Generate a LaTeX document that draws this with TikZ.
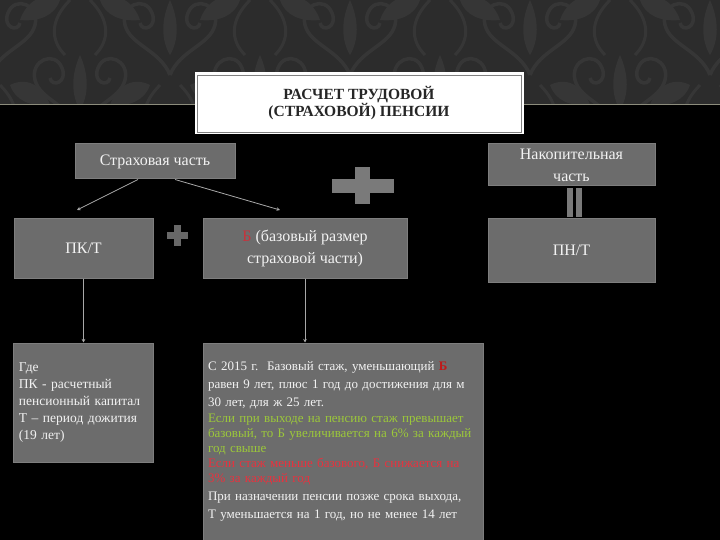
\documentclass[tikz,border=0pt]{standalone}
\usepackage{fontspec}
\setmainfont{Liberation Serif}
\usetikzlibrary{arrows.meta}
\definecolor{band}{HTML}{2C2C2C}
\definecolor{ornc}{HTML}{363636}
\definecolor{bandline}{HTML}{8C8C7C}
\definecolor{boxfill}{HTML}{6C6C6C}
\definecolor{boxline}{HTML}{7E7E7E}
\definecolor{plusc}{HTML}{7A7A7A}
\definecolor{txt}{HTML}{F2F2F2}
\definecolor{redB}{HTML}{C8323C}
\definecolor{redD}{HTML}{C01818}
\definecolor{redL}{HTML}{E8323E}
\definecolor{grn}{HTML}{9CC83A}
\definecolor{conn}{HTML}{A8A8A8}
\tikzset{
  graybox/.style={rectangle, fill=boxfill, draw=boxline, line width=1pt, inner sep=0pt, text=txt, align=center},
  midtext/.style={font=\fontsize{16}{22}\selectfont},
  smalltext/.style={font=\fontsize{13.5}{16.8}\selectfont},
  bigtext/.style={font=\fontsize{13}{16.4}\selectfont},
  connline/.style={draw=conn, line width=0.8pt, -{Stealth[length=3.5pt,width=3.5pt]}},
  orn/.pic={
    \draw[ornc, line width=3.5pt] (0,30) .. controls (-10,5) and (-40,0) .. (-45,-20) .. controls (-50,-40) and (-25,-50) .. (-18,-32) .. controls (-12,-18) and (-28,-12) .. (-30,-22);
    \draw[ornc, line width=3.5pt] (0,30) .. controls (10,5) and (40,0) .. (45,-20) .. controls (50,-40) and (25,-50) .. (18,-32) .. controls (12,-18) and (28,-12) .. (30,-22);
    \fill[ornc] (0,-45) .. controls (9,-25) and (9,-5) .. (0,10) .. controls (-9,-5) and (-9,-25) .. (0,-45);
    \fill[ornc] (-20,40) .. controls (-40,30) and (-55,45) .. (-60,60) .. controls (-40,62) and (-25,55) .. (-20,40);
    \fill[ornc] (20,40) .. controls (40,30) and (55,45) .. (60,60) .. controls (40,62) and (25,55) .. (20,40);
    \draw[ornc, line width=3pt] (-10,40) .. controls (-30,60) and (-30,80) .. (-15,95);
    \draw[ornc, line width=3pt] (10,40) .. controls (30,60) and (30,80) .. (15,95);
  }
}
\begin{document}
\begin{tikzpicture}[x=1pt,y=-1pt]
\useasboundingbox (0,0) rectangle (720,540);
% background
\fill[black] (0,0) rectangle (720,540);
\fill[band] (0,0) rectangle (720,104);
\begin{scope}
  \clip (0,0) rectangle (720,104);
  \foreach \px in {-10,170,350,530,710} {\pic at (\px,45) {orn};}
  \foreach \px in {80,260,440,620} {\pic at (\px,-40) {orn};}
  \foreach \px in {80,260,440,620} {\pic at (\px,100) {orn};}
\end{scope}
\draw[bandline, line width=1.5pt] (0,104.5) -- (720,104.5);

% title
\node[rectangle, fill=white, draw=white, line width=1pt, minimum width=328, minimum height=61, inner sep=0pt,
      font=\bfseries\fontsize{15.5}{17}\selectfont, align=center, text=black!85] (title) at (359,103.5)
      {РАСЧЕТ ТРУДОВОЙ\\(СТРАХОВОЙ) ПЕНСИИ};
\draw[gray, line width=0.8pt] ([shift={(2.5,2.5)}]title.north west) rectangle ([shift={(-2.5,-2.5)}]title.south east);

% top row
\node[graybox, midtext, minimum width=160, minimum height=35] (strah) at (155,161.5) {Страховая часть};
\node[graybox, midtext, minimum width=167, minimum height=42] (nakop) at (571.5,165) {Накопительная\\часть};

% big plus
\fill[plusc] (332,179) rectangle (394,193);
\fill[plusc] (355,167) rectangle (370,204);

% equals bars
\fill[plusc] (567,188) rectangle (573,217);
\fill[plusc] (576,188) rectangle (582,217);

% second row
\node[graybox, midtext, minimum width=139, minimum height=59] (pkt) at (83.5,248.5) {ПК/Т};
\node[graybox, midtext, minimum width=204, minimum height=59] (bbox) at (305,248.5) {{\color{redB}Б} (базовый размер\\страховой части)};
\node[graybox, midtext, minimum width=167, minimum height=63] (pnt) at (571.5,250.5) {ПН/Т};

% small plus
\fill[plusc!85!black] (167,232) rectangle (188,239);
\fill[plusc!85!black] (174,225) rectangle (181,246);

% bottom boxes
\node[graybox, smalltext, minimum width=140, minimum height=119, text width=128, align=left] (gde) at (83,402.5)
  {Где\\ПК - расчетный\\пенсионный капитал\\Т – период дожития\\(19 лет)};
\node[graybox, bigtext, minimum width=280, minimum height=197, text width=270, align=left] (big) at (343,441.5)
  {С 2015 г.\ \ Базовый стаж, уменьшающий {\color{redD}\textbf{Б}}\\[1.5pt]
   равен 9 лет, плюс 1 год до достижения для м\\[1.5pt]
   30 лет, для ж 25 лет.\\
   {\color{grn}Если при выходе на пенсию стаж превышает}\\[-1.5pt]
   {\color{grn}базовый, то Б увеличивается на 6\% за каждый}\\[-1.5pt]
   {\color{grn}год свыше}\\[-1.5pt]
   {\color{redL}Если стаж меньше базового, Б снижается на}\\[-1.5pt]
   {\color{redL}3\% за каждый год}\\[1.5pt]
   При назначении пенсии позже срока выхода,\\[1.5pt]
   Т уменьшается на 1 год, но не менее 14 лет};

% connectors
\coordinate (endL) at (77,210);
\coordinate (endR) at (280,210);
\draw[connline] ([xshift=-17pt]strah.south) -- (endL);
\draw[connline] ([xshift=20pt]strah.south) -- (endR);
\draw[connline] (pkt.south) -- (pkt.south |- gde.north);
\draw[connline] (bbox.south) -- (bbox.south |- big.north);
\end{tikzpicture}
\end{document}
